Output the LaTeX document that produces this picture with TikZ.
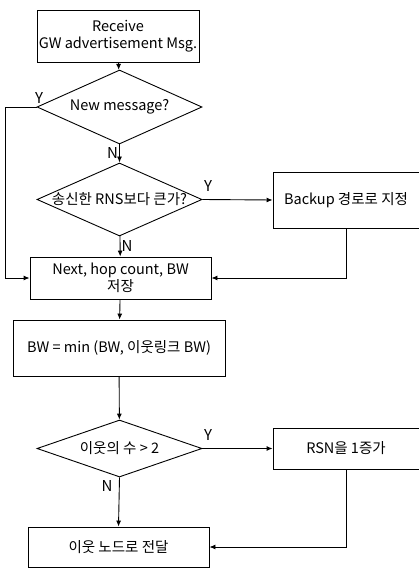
\documentclass[tikz,border=0pt]{standalone}
\usepackage{fontspec}
\setmainfont{Noto Sans CJK KR}
\usetikzlibrary{shapes.geometric,arrows.meta}

\begin{document}
\begin{tikzpicture}[x=1pt, y=-1pt, line width=0.9pt,
	font=\fontsize{14.5}{17}\selectfont,
	box/.style={rectangle, draw, inner sep=0pt, align=center},
	decision/.style={diamond, draw, inner sep=0pt, minimum width=165pt},
	yn/.style={inner sep=1pt, font=\fontsize{15}{15}\selectfont},
	>={Latex[length=6pt, width=5pt]}]
	\fill[white] (0,0) rectangle (419,569);
	\useasboundingbox (0,0) rectangle (419,569);
	\node (recv) at (118,36) [box, minimum width=162pt, minimum height=52pt] {Receive\\GW advertisement Msg.};
	\node (newmsg) at (119.5,107) [decision, minimum height=74pt, label=center:{New message?}] {};
		\node (rns) at (119.5,199.5) [decision, minimum height=73pt, label=center:{송신한 RNS보다 큰가?}] {};
			\node (backup) at (346,200) [box, minimum width=146pt, minimum height=56pt] {Backup 경로로 지정};
		\node (save) at (120.5,278) [box, minimum width=181pt, minimum height=42pt] {Next, hop count, BW\\저장};
	\node (bw) at (119,348) [box, minimum width=212pt, minimum height=56pt] {BW = min (BW, 이웃링크 BW)};
	\node (nb) at (119.5,448.5) [decision, minimum height=57pt, label=center:{이웃의 수 > 2}] {};
		\node (rsn) at (346,448.5) [box, minimum width=146pt, minimum height=41pt] {RSN을 1증가};
	\node (fwd) at (118.5,547) [box, minimum width=181pt, minimum height=40pt] {이웃 노드로 전달};
	\coordinate (lbend) at (5,107);
	\draw[->] (recv) -- (newmsg);
	\draw[->] (newmsg) -- node [yn, left] {N} (rns);
	\draw[->] (newmsg.west) -- (lbend) |- (save.west);
	\draw[->] (rns.east) -- (backup.west);
	\draw[->] (rns) -- node [yn, right] {N} (save);
	\draw[->] (backup.south) |- (save.east);
	\draw[->] (save) -- (bw);
	\draw[->] (bw) -- (nb);
	\draw[->] (nb.east) -- (rsn.west);
	\draw[->] (nb.south) -- (fwd.north);
	\draw[->] (rsn.south) |- (fwd.east);
	\node (y1) at (39,98) [yn] {Y};
	\node (y2) at (208,186) [yn] {Y};
	\node (y3) at (208,435) [yn] {Y};
	\node (n3) at (107,486) [yn] {N};
\end{tikzpicture}
\end{document}
